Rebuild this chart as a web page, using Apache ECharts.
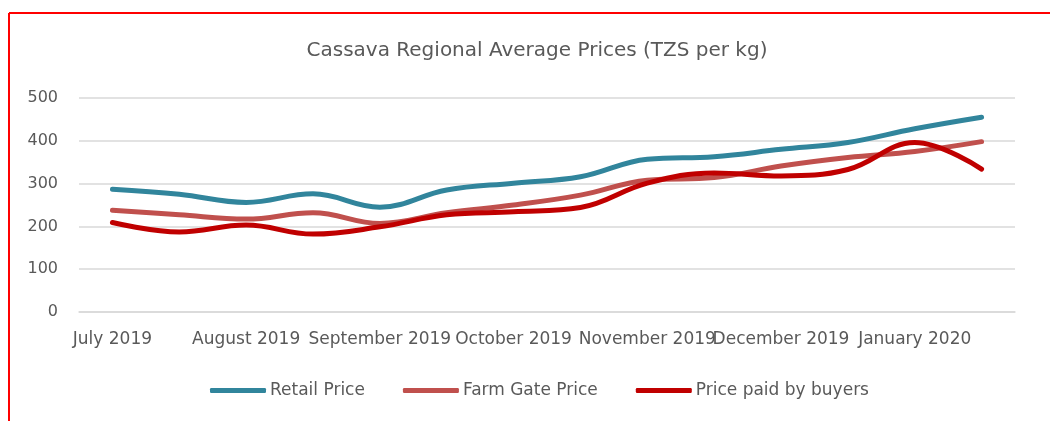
<!DOCTYPE html>
<html>
<head>
<meta charset="utf-8">
<script src="https://cdn.jsdelivr.net/npm/echarts@6/dist/echarts.min.js"></script>
<style>
html,body{margin:0;padding:0;background:#fff;}
#c{width:1050px;height:421px;}
</style>
</head>
<body>
<div id="c"></div>
<script>
var categories = ['July 2019','','August 2019','','September 2019','','October 2019','','November 2019','','December 2019','','January 2020',''];
var retailPrice = [287, 275, 256, 276, 245, 285, 301, 316, 357, 363, 380, 396, 428, 455];
var farmGatePrice = [238, 227, 217, 232, 207, 232, 250, 273, 308, 314, 341, 361, 375, 398];
var buyersPrice = [209, 187, 203, 182, 199, 227, 234, 244, 301, 325, 318, 333, 396, 334];
var yTicks = [0, 100, 200, 300, 400, 500];

var FONT = 'DejaVu Sans';
var TXT = '#595959';
var chart = echarts.init(document.getElementById('c'), null, {renderer:'canvas'});
chart.setOption({
  animation:false,
  backgroundColor:'#ffffff',
  title:{
    text:'Cassava Regional Average Prices (TZS per kg)',
    left:532, top:36, textAlign:'center',
    textStyle:{fontFamily:FONT, fontSize:20, fontWeight:'normal', color:TXT}
  },
  graphic:[
    {type:'line', shape:{x1:9,y1:13,x2:1050,y2:13}, style:{stroke:'#ff0000', lineWidth:2}, silent:true},
    {type:'line', shape:{x1:9,y1:13,x2:9,y2:421}, style:{stroke:'#ff0000', lineWidth:2}, silent:true}
  ],
  legend:{
    left:205, top:377,
    icon:'roundRect', itemWidth:56, itemHeight:5, itemGap:38,
    textStyle:{fontFamily:FONT, fontSize:17, color:TXT, padding:[0,0,0,-1]},
    data:['Retail Price','Farm Gate Price','Price paid by buyers']
  },
  grid:{left:79, right:35, top:98, bottom:109, containLabel:false},
  xAxis:{
    type:'category', data:categories, boundaryGap:true,
    axisLine:{show:true, lineStyle:{color:'#d9d9d9', width:1.5}},
    axisTick:{show:false},
    axisLabel:{interval:0, margin:19, fontFamily:FONT, fontSize:17, color:TXT, hideOverlap:false}
  },
  yAxis:{
    type:'value', min:yTicks[0], max:yTicks[yTicks.length-1], interval:100,
    axisLine:{show:false}, axisTick:{show:false},
    axisLabel:{margin:21, fontFamily:FONT, fontSize:16, color:TXT},
    splitLine:{lineStyle:{color:'#d9d9d9', width:1.5}}
  },
  series:[
    {name:'Retail Price', type:'line', data:retailPrice, smooth:0.4, symbol:'none',
     lineStyle:{width:5, color:'#31859C', cap:'round', join:'round'}, itemStyle:{color:'#31859C'}},
    {name:'Farm Gate Price', type:'line', data:farmGatePrice, smooth:0.4, symbol:'none',
     lineStyle:{width:5, color:'#C0504D', cap:'round', join:'round'}, itemStyle:{color:'#C0504D'}},
    {name:'Price paid by buyers', type:'line', data:buyersPrice, smooth:0.4, symbol:'none',
     lineStyle:{width:5, color:'#C00000', cap:'round', join:'round'}, itemStyle:{color:'#C00000'}}
  ]
});
</script>
</body>
</html>
